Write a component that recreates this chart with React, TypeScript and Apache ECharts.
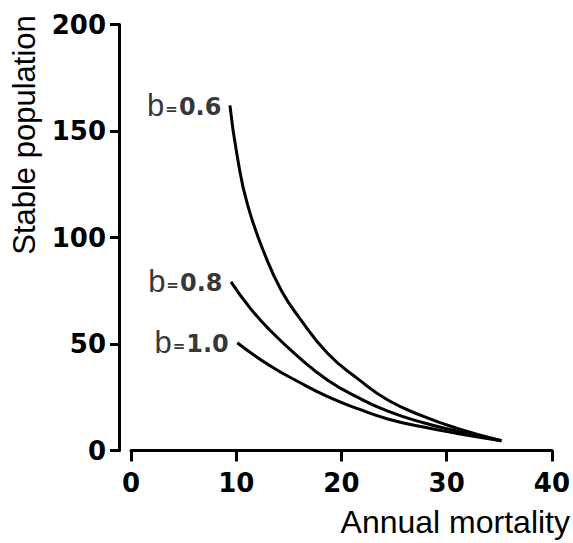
import React, { useEffect, useRef } from "react";
import * as echarts from "echarts";

// Axis ranges / ticks
const xMin = 0;
const xMax = 40;
const xInterval = 10;
const yMin = 0;
const yMax = 200;
const yInterval = 50;

// Curve labels
const curveNames = ["b=0.6", "b=0.8", "b=1.0"];
const curveLabelValues = ["0.6", "0.8", "1.0"];

// b = 0.6
const b06X = [9.4, 10.1, 11.1, 12.8, 14.3, 15.9, 18.7, 21.6, 24.4, 27.8, 31.0, 35.2];
const b06Y = [162, 138, 115, 91, 75, 63, 45.5, 33.5, 23.7, 16.0, 10.4, 4.6];

// b = 0.8
const b08X = [9.5, 11.3, 13.1, 15.9, 18.7, 21.6, 24.4, 27.8, 31.0, 35.2];
const b08Y = [79.2, 67, 57, 44, 33, 24.8, 18.5, 13, 9.1, 4.6];

// b = 1.0
const b10X = [10.1, 13.1, 15.9, 18.7, 21.6, 24.4, 27.8, 31.0, 35.2];
const b10Y = [50.6, 40.1, 32.3, 25.3, 19.5, 14.8, 11.0, 8.0, 4.6];

const xTitle = "Annual mortality";
const yTitle = "Stable population";

const curvesX = [b06X, b08X, b10X];
const curvesY = [b06Y, b08Y, b10Y];

const TITLE_FONT = "'Liberation Sans', Arial, sans-serif";
const TICK_FONT = "'DejaVu Sans', sans-serif";

export default function App() {
  const ref = useRef<HTMLDivElement>(null);

  useEffect(() => {
    if (!ref.current) return;
    const chart = echarts.init(ref.current, undefined, { renderer: "svg" });

    const lineSeries = curvesX.map((xs, i) => ({
      type: "line",
      name: curveNames[i],
      data: xs.map((x, j) => [x, curvesY[i][j]]),
      smooth: 0.5,
      showSymbol: false,
      symbol: "none",
      lineStyle: { color: "#000", width: 3 },
      itemStyle: { color: "#000" },
      z: 3,
    }));

    const labelSeries = curvesX.map((xs, i) => ({
      type: "scatter",
      name: curveNames[i] + " label",
      data: [[xs[0], curvesY[i][0]]],
      symbolSize: 1,
      itemStyle: { color: "rgba(0,0,0,0)" },
      silent: true,
      label: {
        show: true,
        position: "left",
        distance: 8,
        color: "#000",
        textBorderWidth: 0,
        formatter: () => `{b|b}{e|=}{n|${curveLabelValues[i]}}`,
        rich: {
          b: { fontFamily: TITLE_FONT, fontSize: 31, color: "#000", textBorderWidth: 0 },
          e: { fontFamily: TICK_FONT, fontSize: 15, fontWeight: "bold", color: "#000", padding: [7, 1, 0, 1], textBorderWidth: 0 },
          n: { fontFamily: TICK_FONT, fontSize: 24, fontWeight: "bold", color: "#000", padding: [3, 0, 0, 0], textBorderWidth: 0 },
        },
      },
    }));

    chart.setOption({
      animation: false,
      backgroundColor: "#fff",
      grid: { left: 131, right: 17, top: 24.5, bottom: 92.5, containLabel: false },
      xAxis: {
        type: "value",
        min: xMin,
        max: xMax,
        interval: xInterval,
        axisLine: { show: true, onZero: false, lineStyle: { color: "#000", width: 3 } },
        axisTick: { show: true, length: 11, lineStyle: { color: "#000", width: 3 } },
        axisLabel: {
          color: "#000",
          fontFamily: TICK_FONT,
          fontWeight: "bold",
          fontSize: 26,
          margin: 19,
        },
        splitLine: { show: false },
      },
      yAxis: {
        type: "value",
        min: yMin,
        max: yMax,
        interval: yInterval,
        offset: 12,
        axisLine: { show: true, onZero: false, lineStyle: { color: "#000", width: 3 } },
        axisTick: { show: true, length: 9, lineStyle: { color: "#000", width: 3 } },
        axisLabel: {
          color: "#000",
          fontFamily: TICK_FONT,
          fontWeight: "bold",
          fontSize: 26,
          margin: 13,
        },
        splitLine: { show: false },
      },
      graphic: [
        {
          type: "text",
          x: 24,
          y: 135,
          rotation: Math.PI / 2,
          style: {
            text: yTitle,
            fontFamily: TITLE_FONT,
            fontSize: 31,
            fill: "#000",
            align: "center",
            verticalAlign: "middle",
          },
        },
        {
          type: "text",
          x: 570,
          y: 522,
          style: {
            text: xTitle,
            fontFamily: TITLE_FONT,
            fontSize: 32,
            fill: "#000",
            align: "right",
            verticalAlign: "middle",
          },
        },
      ],
      series: [...lineSeries, ...labelSeries],
    });

    return () => chart.dispose();
  }, []);

  return (
    <div
      ref={ref}
      style={{ position: "absolute", left: 0, top: 0, width: 573, height: 543 }}
    />
  );
}
